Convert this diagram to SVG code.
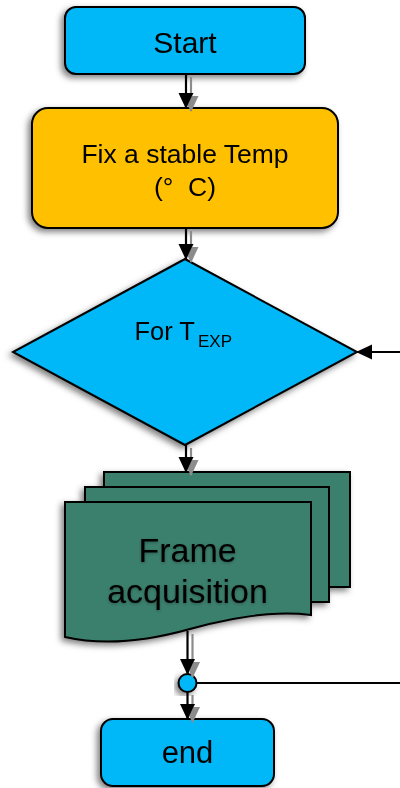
<svg xmlns="http://www.w3.org/2000/svg" width="400" height="788" viewBox="0 0 400 788">
  <style>
    .lbl { font-family: "Liberation Sans", Arial, sans-serif; fill: #000; text-anchor: middle; }
    .node { stroke: #000; stroke-width: 2; }
    .blue { fill: #00B7F7; }
    .orange { fill: #FFC000; }
    .green { fill: #3A7F6D; }
    .conn { fill: none; stroke: #000; stroke-width: 2.2; }
  </style>
  <defs>
    <marker id="arrow" markerUnits="userSpaceOnUse" markerWidth="18" markerHeight="18" refX="15" refY="7.5" orient="auto">
      <path d="M0,0 L16,7.5 L0,15 Z" fill="#000"/>
    </marker>
    <filter id="nodeShadow" x="-20%" y="-20%" width="140%" height="140%">
      <feDropShadow dx="-3" dy="3" stdDeviation="3" flood-color="#000" flood-opacity="0.5"/>
    </filter>
    <filter id="connShadow" filterUnits="userSpaceOnUse" x="0" y="0" width="400" height="788">
      <feFlood flood-color="#8c8c8c"/>
      <feComposite in2="SourceAlpha" operator="in"/>
      <feOffset dx="5" dy="3"/>
      <feGaussianBlur stdDeviation="0.6"/>
      <feMerge>
        <feMergeNode/>
        <feMergeNode in="SourceGraphic"/>
      </feMerge>
    </filter>
    <filter id="textGlow" x="-10%" y="-20%" width="120%" height="140%">
      <feDropShadow dx="0" dy="1" stdDeviation="1.5" flood-color="#000" flood-opacity="0.3"/>
    </filter>
  </defs>

  <!-- Start terminal -->
  <g id="start" filter="url(#nodeShadow)">
    <rect class="node blue" x="65" y="7" width="240" height="67" rx="11"/>
    <text class="lbl" x="185" y="52.5" font-size="30">Start</text>
  </g>

  <!-- Process: fix temperature -->
  <g id="fix-temp" filter="url(#nodeShadow)">
    <rect class="node orange" x="32" y="108" width="306" height="120" rx="16"/>
    <text class="lbl" x="185" y="163" font-size="26.5">Fix a stable Temp</text>
    <text class="lbl" x="185" y="196" font-size="26.5">(°&#160;&#160;C)</text>
  </g>

  <!-- Decision: loop over exposure times -->
  <g id="for-texp" filter="url(#nodeShadow)">
    <polygon class="node blue" points="185,259 357,352 185,445 13,352"/>
    <text font-family="Liberation Sans, Arial, sans-serif" x="134.5" y="340" font-size="25.5">For T<tspan x="198" y="347" font-size="17">EXP</tspan></text>
  </g>

  <!-- Multi-document: frame acquisition -->
  <g id="frame-acq">
    <g filter="url(#nodeShadow)">
      <rect class="node green" x="104" y="472" width="246" height="115"/>
      <rect class="node green" x="85" y="487" width="244" height="115"/>
      <path class="node green" d="M65,502 H311 V615 C280,611 240,615 190,629 C140,643 100,645 65,637 Z"/>
    </g>
    <g filter="url(#textGlow)">
      <text class="lbl" x="187.5" y="562" font-size="34">Frame</text>
      <text class="lbl" x="187.5" y="603" font-size="34">acquisition</text>
    </g>
  </g>

  <!-- Junction point -->
  <g id="junction" filter="url(#nodeShadow)">
    <circle class="node blue" cx="187.5" cy="683" r="9"/>
  </g>

  <!-- End terminal -->
  <g id="end" filter="url(#nodeShadow)">
    <rect class="node blue" x="101" y="719" width="173" height="67" rx="12"/>
    <text class="lbl" x="187.5" y="763" font-size="31">end</text>
  </g>

  <!-- Connectors -->
  <g id="connectors">
    <g filter="url(#connShadow)">
      <path class="conn" d="M186,74 V108" marker-end="url(#arrow)"/>
      <path class="conn" d="M186,228 V259" marker-end="url(#arrow)"/>
      <path class="conn" d="M186,445 V472" marker-end="url(#arrow)"/>
      <path class="conn" d="M187.5,631 V674" marker-end="url(#arrow)"/>
      <path class="conn" d="M187.5,692 V719" marker-end="url(#arrow)"/>
    </g>
    <path class="conn" d="M196.5,683 H412 V352 H357" marker-end="url(#arrow)"/>
  </g>
</svg>
